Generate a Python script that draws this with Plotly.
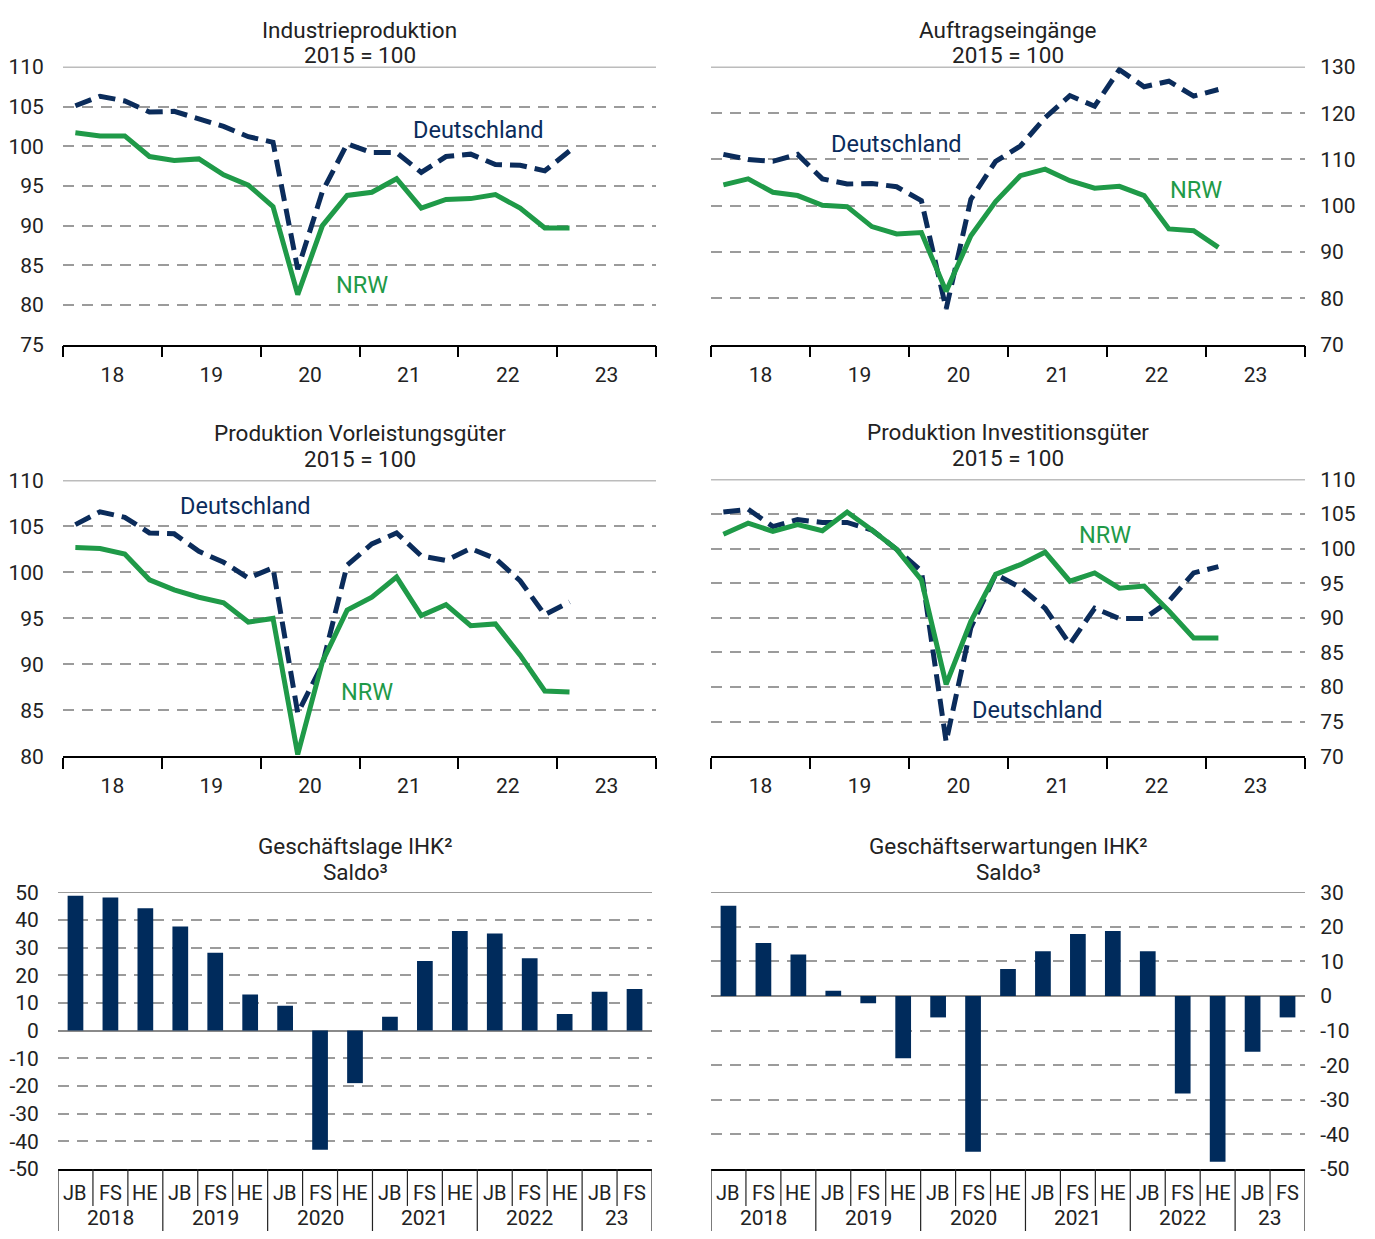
import plotly.graph_objects as go

W, H = 1375, 1239
OFF = 8  # default page body margin
FW, FH = W - 2 * OFF, H - 2 * OFF
# empirical vertical calibration of the rendered page (top offset, rendered height)
Y_TOP, Y_SPAN = 20.1, 1200.0
FONT = "Roboto"
NAVY = "#0b2c5b"
GREEN = "#1f9a48"
BAR = "#002b5c"
GRID = "#9b9b9b"
TXT = "#222222"

# ---------- data ----------
quarters = list(range(21))  # Q1 2018 .. Q1 2023
year_labels = ["18", "19", "20", "21", "22", "23"]

ip_de = [105.1, 106.3, 105.7, 104.3, 104.4, 103.4, 102.5, 101.2, 100.5, 84.5, 94.3,
         100.3, 99.2, 99.2, 96.7, 98.7, 99.0, 97.7, 97.6, 96.9, 99.4]
ip_nrw = [101.7, 101.3, 101.3, 98.7, 98.2, 98.4, 96.4, 95.1, 92.4, 81.3, 90.0,
          93.8, 94.2, 95.9, 92.2, 93.3, 93.4, 93.9, 92.2, 89.7, 89.7]

ae_de = [111.1, 110.0, 109.6, 111.1, 105.8, 104.7, 104.8, 104.1, 101.1, 77.7, 101.4,
         109.6, 112.9, 119.0, 123.8, 121.5, 129.4, 125.7, 126.9, 123.7, 125.1]
ae_nrw = [104.5, 105.8, 102.9, 102.2, 100.1, 99.8, 95.5, 93.9, 94.2, 81.5, 93.5,
          100.9, 106.5, 107.9, 105.4, 103.8, 104.2, 102.2, 95.0, 94.6, 91.0]

vl_de = [105.2, 106.6, 106.0, 104.3, 104.2, 102.3, 101.1, 99.4, 100.5, 84.7, 90.0,
         100.8, 103.1, 104.3, 101.8, 101.3, 102.6, 101.5, 99.1, 95.4, 96.8]
vl_nrw = [102.7, 102.6, 102.0, 99.2, 98.1, 97.3, 96.7, 94.6, 95.0, 80.2, 90.3,
          95.9, 97.3, 99.5, 95.3, 96.5, 94.2, 94.4, 91.0, 87.1, 87.0]

ig_de = [105.3, 105.7, 103.2, 104.2, 103.8, 103.8, 102.7, 99.9, 96.8, 72.1, 88.6,
         96.3, 94.4, 91.4, 86.2, 91.4, 89.9, 89.9, 92.4, 96.5, 97.4]
ig_nrw = [102.1, 103.7, 102.5, 103.5, 102.6, 105.3, 102.7, 99.9, 95.5, 80.4, 89.5,
          96.3, 97.7, 99.5, 95.3, 96.5, 94.3, 94.6, 91.0, 87.1, 87.1]

bar_cats = ["JB", "FS", "HE", "JB", "FS", "HE", "JB", "FS", "HE", "JB", "FS", "HE",
            "JB", "FS", "HE", "JB", "FS"]
bar_years = ["2018", "2019", "2020", "2021", "2022", "23"]
bar_year_sizes = [3, 3, 3, 3, 3, 2]
lage = [48.7, 48.1, 44.2, 37.6, 28.1, 13, 9, -43.1, -19, 5, 25.1, 36, 35.1, 26.1, 6, 14, 15]
erw = [26.1, 15.3, 12, 1.5, -2.1, -18, -6.2, -45, 7.8, 12.9, 17.9, 18.8, 12.9, -28.2, -47.9, -16.1, -6.2]


def px_x(p):
    return (p - OFF) / FW


def px_y(p):
    return 1 - (p - Y_TOP) / Y_SPAN


def ax_names(i):
    s = "" if i == 1 else str(i)
    return "x" + s, "y" + s, "xaxis" + s, "yaxis" + s


fig = go.Figure()

panels = [
    dict(x=(63, 656), y=(67, 345), rng=(75, 110), dt=5, side="left",
         title=("Industrieproduktion", "2015 = 100"), de=ip_de, nrw=ip_nrw,
         lab_de=(16.3, 102.1), lab_nrw=(11.6, 82.5)),
    dict(x=(711, 1305), y=(67, 345), rng=(70, 130), dt=10, side="right",
         title=("Auftragseingänge", "2015 = 100"), de=ae_de, nrw=ae_nrw,
         lab_de=(7.0, 113.3), lab_nrw=(19.1, 103.5)),
    dict(x=(63, 656), y=(481, 757), rng=(80, 110), dt=5, side="left",
         title=("Produktion Vorleistungsgüter", "2015 = 100"), de=vl_de, nrw=vl_nrw,
         lab_de=(6.9, 107.2), lab_nrw=(11.8, 87.0)),
    dict(x=(711, 1305), y=(480, 757), rng=(70, 110), dt=5, side="right",
         title=("Produktion Investitionsgüter", "2015 = 100"), de=ig_de, nrw=ig_nrw,
         lab_de=(12.7, 76.7), lab_nrw=(15.4, 102.0)),
]

shapes = []
annotations = []
axes = {}


def add_title(xc_px, lines, first_row, gap=26):
    for n, ln in enumerate(lines):
        annotations.append(dict(xref="paper", yref="paper", x=px_x(xc_px), y=px_y(first_row + n * gap),
                                text=ln, showarrow=False, font=dict(family=FONT, size=22.5, color=TXT),
                                xanchor="center", yanchor="middle"))


for i, p in enumerate(panels, start=1):
    xa, ya, xk, yk = ax_names(i)
    fig.add_trace(go.Scatter(x=quarters, y=p["de"], mode="lines", xaxis=xa, yaxis=ya,
                             line=dict(color=NAVY, width=5, dash="17px,8px"),
                             showlegend=False, hoverinfo="skip"))
    fig.add_trace(go.Scatter(x=quarters, y=p["nrw"], mode="lines", xaxis=xa, yaxis=ya,
                             line=dict(color=GREEN, width=5),
                             showlegend=False, hoverinfo="skip"))
    lo, hi = p["rng"]
    tv = list(range(lo, hi + 1, p["dt"]))
    axes[xk] = dict(
        domain=[px_x(p["x"][0]), px_x(p["x"][1])], anchor=ya, range=[-0.5, 23.5],
        showgrid=False, zeroline=False, showline=True, linecolor="black", linewidth=1.5,
        tickmode="array", tickvals=[1.5 + 4 * k for k in range(6)], ticktext=year_labels,
        ticks="outside", ticklen=10, tickcolor="rgba(0,0,0,0)",
        tickfont=dict(family=FONT, size=21, color=TXT),
        minor=dict(tickmode="array", tickvals=[-0.5 + 4 * k for k in range(7)],
                   ticks="outside", ticklen=11, tickwidth=1.5, tickcolor="black", showgrid=False),
        fixedrange=True,
    )
    axes[yk] = dict(
        domain=[px_y(p["y"][1]), px_y(p["y"][0])], anchor=xa, range=[lo, hi], side=p["side"],
        tickmode="array", tickvals=tv, ticktext=[str(v) for v in tv],
        showgrid=True, gridcolor=GRID, griddash="11px,8px", gridwidth=1.5,
        zeroline=False, showline=False, ticks="outside", ticklen=10 if p["side"] == "right" else 14,
        tickcolor="rgba(0,0,0,0)", tickfont=dict(family=FONT, size=21, color=TXT), fixedrange=True,
    )
    shapes.append(dict(type="line", xref=f"{xa} domain", yref=ya, x0=0, x1=1, y0=hi, y1=hi,
                       line=dict(color="#7a7a7a", width=1.5)))
    first = 30 if p["y"][0] < 100 else p["y"][0] - 48
    add_title((p["x"][0] + p["x"][1]) / 2, p["title"], first, gap=25 if p["y"][0] < 100 else 26)
    annotations.append(dict(xref=xa, yref=ya, x=p["lab_de"][0], y=p["lab_de"][1], text="Deutschland",
                            showarrow=False, font=dict(family=FONT, size=23.5, color=NAVY)))
    annotations.append(dict(xref=xa, yref=ya, x=p["lab_nrw"][0], y=p["lab_nrw"][1], text="NRW",
                            showarrow=False, font=dict(family=FONT, size=23.5, color=GREEN)))

bars = [
    dict(x=(58, 652), y=(893, 1170), rng=(-50, 50), side="left", vals=lage,
         title=("Geschäftslage IHK²", "Saldo³")),
    dict(x=(711, 1305), y=(893, 1170), rng=(-50, 30), side="right", vals=erw,
         title=("Geschäftserwartungen IHK²", "Saldo³")),
]
cat_x = list(range(len(bar_cats)))
for j, b in enumerate(bars, start=5):
    xa, ya, xk, yk = ax_names(j)
    fig.add_trace(go.Bar(x=cat_x, y=b["vals"], xaxis=xa, yaxis=ya, marker_color=BAR,
                         marker_line_width=0, width=0.45, showlegend=False, hoverinfo="skip"))
    lo, hi = b["rng"]
    tv = list(range(lo, hi + 1, 10))
    axes[xk] = dict(
        domain=[px_x(b["x"][0]), px_x(b["x"][1])], anchor=ya, range=[-0.5, 16.5],
        showgrid=False, zeroline=False, showline=True, linecolor="black", linewidth=1.5,
        showticklabels=False, ticks="", fixedrange=True,
    )
    axes[yk] = dict(
        domain=[px_y(b["y"][1]), px_y(b["y"][0])], anchor=xa, range=[lo, hi], side=b["side"],
        tickmode="array", tickvals=tv, ticktext=[str(v) for v in tv],
        showgrid=True, gridcolor=GRID, griddash="11px,8px", gridwidth=1.5,
        zeroline=True, zerolinecolor="#8a8a8a", zerolinewidth=1.5, showline=False,
        ticks="outside", ticklen=10 if b["side"] == "right" else 14, tickcolor="rgba(0,0,0,0)",
        tickfont=dict(family=FONT, size=21, color=TXT), fixedrange=True,
    )
    shapes.append(dict(type="line", xref=f"{xa} domain", yref=ya, x0=0, x1=1, y0=hi, y1=hi,
                       line=dict(color="#7a7a7a", width=1.5)))
    add_title((b["x"][0] + b["x"][1]) / 2, b["title"], b["y"][0] - 46)
    bounds = [-0.5]
    for s in bar_year_sizes:
        bounds.append(bounds[-1] + s)
    for k in range(len(bar_cats) + 1):
        xv = k - 0.5
        full = xv in bounds
        shapes.append(dict(type="line", xref=xa, yref="paper", x0=xv, x1=xv,
                           y0=px_y(b["y"][1]), y1=px_y(1245) if full else px_y(1207),
                           line=dict(color="#222222", width=1.2)))
    for k, c in enumerate(bar_cats):
        annotations.append(dict(xref=xa, yref="paper", x=k, y=px_y(1194), text=c, showarrow=False,
                                font=dict(family=FONT, size=20, color=TXT), yanchor="middle"))
    for k, yl in enumerate(bar_years):
        xc = (bounds[k] + bounds[k + 1]) / 2
        annotations.append(dict(xref=xa, yref="paper", x=xc, y=px_y(1219), text=yl, showarrow=False,
                                font=dict(family=FONT, size=21, color=TXT), yanchor="middle"))

fig.update_layout(
    width=FW, height=FH, margin=dict(l=0, r=0, t=0, b=0),
    paper_bgcolor="white", plot_bgcolor="white",
    shapes=shapes, annotations=annotations, showlegend=False,
    font=dict(family=FONT, color=TXT), **axes,
)

fig.write_html("out.html", config={"displayModeBar": False})
